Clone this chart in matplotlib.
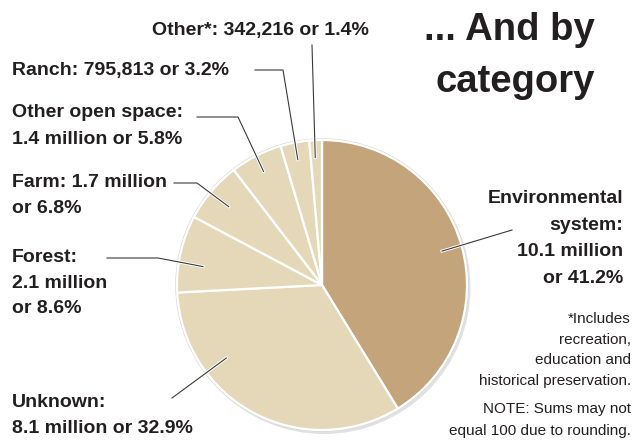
import matplotlib
matplotlib.use("Agg")
import matplotlib.pyplot as plt
import matplotlib.patheffects as pe
from matplotlib.patches import Circle
import numpy as np

# ---------------- data ----------------
categories = ["Environmental system", "Unknown", "Forest", "Farm",
              "Other open space", "Ranch", "Other*"]
percentages = [41.2, 32.9, 8.6, 6.8, 5.8, 3.2, 1.4]
amounts = ["10.1 million", "8.1 million", "2.1 million", "1.7 million",
           "1.4 million", "795,813", "342,216"]
label_lines = [
    ["Environmental", "system:", "10.1 million", "or 41.2%"],
    ["Unknown:", "8.1 million or 32.9%"],
    ["Forest:", "2.1 million", "or 8.6%"],
    ["Farm: 1.7 million", "or 6.8%"],
    ["Other open space:", "1.4 million or 5.8%"],
    ["Ranch: 795,813 or 3.2%"],
    ["Other*: 342,216 or 1.4%"],
]
title_lines = ["... And by", "category"]
footnote_lines = ["*Includes", "recreation,", "education and",
                  "historical preservation."]
note_lines = ["NOTE: Sums may not", "equal 100 due to rounding."]

# ---------------- style / layout ----------------
W, H = 634, 444
FONT = ["Liberation Sans", "DejaVu Sans"]
TXT = "#231f20"
colors = ["#c4a47a", "#e4d8b9", "#e4d8b9", "#e4d8b9", "#e4d8b9", "#e4d8b9", "#e4d8b9"]
center_px = (322, 285)
radius = 145

# label layout: (x, first baseline, line step, ha)
label_pos = [
    (623, 203, 26.7, "right"),
    (12, 407, 25.5, "left"),
    (12, 262, 25.5, "left"),
    (12, 187, 26, "left"),
    (12, 117, 27, "left"),
    (12, 75, 27, "left"),
    (152, 35, 27, "left"),
]
# leader path points on label side (px, top origin); pie end from wedge angle
leader_start = [
    [(512, 230)],
    [(172, 398)],
    [(107, 258), (158, 258)],
    [(174, 183), (197, 183)],
    [(197, 117), (238, 117)],
    [(255, 70), (283, 70)],
    [(312, 45)],
]
# (fraction within wedge from smaller angle, radius fraction)
anchor = [(0.5, 0.86), (0.29, 0.83), (0.62, 0.83), (0.51, 0.84),
          (0.51, 0.88), (0.51, 0.88), (0.6, 0.88)]


def Y(y):
    return H - y


fig = plt.figure(figsize=(W / 100, H / 100), dpi=100)
ax = fig.add_axes([0, 0, 1, 1])

cx, cy = center_px[0], Y(center_px[1])

# shadow + outline
ax.add_patch(Circle((cx + 2, cy - 2.5), radius + 1.5, facecolor="#c4c4c4",
                    edgecolor="none", alpha=0.5, zorder=0))
ax.add_patch(Circle((cx, cy), radius + 1.2, facecolor="white",
                    edgecolor="#d8d8d8", linewidth=0.8, zorder=0.5))

wedges, _ = ax.pie(percentages, colors=colors, startangle=90, counterclock=False,
                   center=(cx, cy), radius=radius, frame=False,
                   wedgeprops=dict(edgecolor="white", linewidth=1.6))
for w in wedges:
    w.set_zorder(1)

ax.set_xlim(0, W)
ax.set_ylim(0, H)
ax.set_aspect("equal")
ax.axis("off")

# leaders
for w, starts, (fr, rf) in zip(wedges, leader_start, anchor):
    ang = np.deg2rad(w.theta1 + fr * (w.theta2 - w.theta1))
    ex = cx + rf * radius * np.cos(ang)
    ey = cy + rf * radius * np.sin(ang)
    xs = [p[0] for p in starts] + [ex]
    ys = [Y(p[1]) for p in starts] + [ey]
    ax.plot(xs, ys, color="#3a3a3a", lw=0.8, zorder=3,
            path_effects=[pe.withStroke(linewidth=2.2, foreground="white")])

# labels
for lines, (x, b0, step, ha) in zip(label_lines, label_pos):
    for i, s in enumerate(lines):
        ax.text(x, Y(b0 + i * step), s, ha=ha, va="baseline", fontsize=14.0,
                fontweight="bold", family=FONT, color=TXT, zorder=4)

# title
for i, s in enumerate(title_lines):
    ax.text(595, Y(40 + i * 52), s, ha="right", va="baseline", fontsize=27.5,
            fontweight="bold", family=FONT, color=TXT)

# footnotes
for i, s in enumerate(footnote_lines):
    ax.text(631, Y(323 + i * 20.5), s, ha="right", va="baseline", fontsize=11,
            family=FONT, color=TXT)
for i, s in enumerate(note_lines):
    ax.text(631, Y(413 + i * 22), s, ha="right", va="baseline", fontsize=11,
            family=FONT, color=TXT)

fig.savefig("out.png", dpi=100, facecolor="white")
